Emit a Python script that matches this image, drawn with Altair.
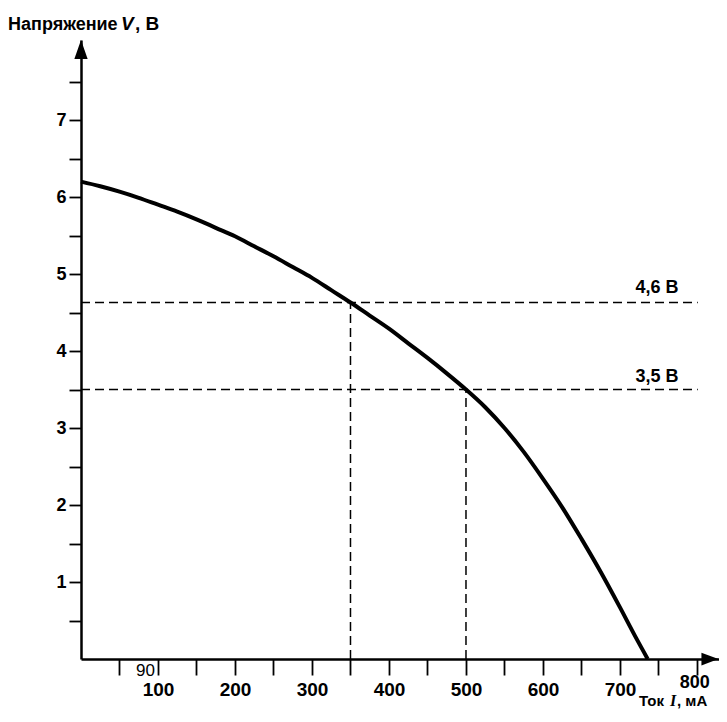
import altair as alt
import pandas as pd

# ---- data ----
current_mA = [0, 25, 50, 75, 100, 125, 150, 175, 200, 225, 250, 275, 300, 325, 350,
              375, 400, 425, 450, 475, 500, 525, 550, 575, 600, 625, 650, 675, 700, 720, 736]
voltage_V = [6.2, 6.14, 6.07, 5.99, 5.9, 5.81, 5.71, 5.6, 5.49, 5.36, 5.23, 5.09, 4.95, 4.79, 4.63,
             4.46, 4.29, 4.1, 3.91, 3.71, 3.5, 3.27, 3.0, 2.69, 2.34, 1.97, 1.56, 1.13, 0.67, 0.29, 0.0]

ref_voltage = [4.63, 3.5]
ref_current = [350, 500]
ref_text = ["4,6 В", "3,5 В"]
ref_line_end = 801
ref_label_x = 748
ref_label_y = [4.75, 3.6]

x_tick_values = list(range(50, 801, 50))
y_tick_values = [0.5 * i for i in range(1, 16)]

X_MAX = 828.6
Y_MAX = 8.039

FONT = "Liberation Sans"

xs = alt.Scale(domain=[0, X_MAX], nice=False, zero=False)
ys = alt.Scale(domain=[0, Y_MAX], nice=False, zero=False)

curve_df = pd.DataFrame({"I": current_mA, "V": voltage_V})
ref_df = pd.DataFrame({
    "I": [0, 0], "I2": [ref_line_end, ref_line_end],
    "V": ref_voltage, "Ic": ref_current, "V0": [0, 0],
    "label": ref_text, "Lx": [ref_label_x] * 2, "Ly": ref_label_y,
})

x_axis = alt.Axis(
    values=x_tick_values, title=None, grid=False,
    labelExpr="datum.value % 100 === 0 && datum.value <= 700 ? datum.value + '' : ''",
    tickSize=16, tickWidth=1.8, tickColor="black",
    domainColor="black", domainWidth=2.5,
    labelFont=FONT, labelFontSize=19, labelFontWeight="bold", labelColor="black",
    labelPadding=5, labelFlush=False, labelOverlap=False,
)
y_axis = alt.Axis(
    values=y_tick_values, title=None, grid=False,
    labelExpr="datum.value % 1 === 0 && datum.value > 0 ? datum.value + '' : ''",
    tickSize=12, tickWidth=1.8, tickColor="black",
    domainColor="black", domainWidth=2.5,
    labelFont=FONT, labelFontSize=18, labelFontWeight="bold", labelColor="black",
    labelPadding=3, labelFlush=False, labelOverlap=False,
)


def X(field):
    return alt.X(field, type="quantitative", scale=xs, axis=x_axis)


def Y(field):
    return alt.Y(field, type="quantitative", scale=ys, axis=y_axis)


curve = alt.Chart(curve_df).mark_line(
    color="black", strokeWidth=4, interpolate="monotone"
).encode(x=X("I"), y=Y("V"))

h_lines = alt.Chart(ref_df).mark_rule(
    color="black", strokeWidth=1.5, strokeDash=[9, 5]
).encode(x=X("I"), x2="I2:Q", y=Y("V"))

v_lines = alt.Chart(ref_df).mark_rule(
    color="black", strokeWidth=1.5, strokeDash=[9, 5]
).encode(x=X("Ic"), y=Y("V0"), y2="V:Q")

ref_labels = alt.Chart(ref_df).mark_text(
    font=FONT, fontSize=18, fontWeight="bold", color="black",
    align="center", baseline="alphabetic"
).encode(x=X("Lx"), y=Y("Ly"), text="label:N")

# arrow heads at the ends of the axes
arrow_x = alt.Chart(pd.DataFrame({"I": [816.8], "V": [0]})).mark_point(
    shape="M -1 -0.75 L 1 0 L -1 0.75 Z", size=289, filled=True,
    color="black", opacity=1, strokeWidth=0
).encode(x=X("I"), y=Y("V"))

arrow_y = alt.Chart(pd.DataFrame({"I": [0], "V": [7.916]})).mark_point(
    shape="M -0.7 1 L 0 -1 L 0.7 1 Z", size=361, filled=True,
    color="black", opacity=1, strokeWidth=0
).encode(x=X("I"), y=Y("V"))

# extra tick-label texts ("90" and raised "800")
extra_90 = alt.Chart(pd.DataFrame({"I": [96], "V": [-0.22], "t": ["90"]})).mark_text(
    font=FONT, fontSize=17, color="black", align="right", baseline="alphabetic"
).encode(x=X("I"), y=Y("V"), text="t:N")
extra_800 = alt.Chart(pd.DataFrame({"I": [797], "V": [-0.383], "t": ["800"]})).mark_text(
    font=FONT, fontSize=18, fontWeight="bold", color="black", align="center",
    baseline="alphabetic"
).encode(x=X("I"), y=Y("V"), text="t:N")


# axis titles (mixed upright / italic parts)
def txt(s, x, y, size=18, weight="bold", style="normal", font=FONT):
    return alt.Chart().mark_text(
        text=s, font=font, fontSize=size, fontWeight=weight, fontStyle=style,
        color="black", align="left", baseline="alphabetic"
    ).encode(x=alt.value(x), y=alt.value(y))


y_title = [
    txt("Напряжение", -73, -10, size=18),
    txt("V", 40, -10, size=19, style="italic"),
    txt(", В", 54, -10, size=19),
]
x_title = [
    txt("Ток", 558, 666, size=15),
    txt("I", 589, 666, size=16, style="italic", font="Liberation Serif"),
    txt(", мА", 596, 666, size=15),
]

chart = alt.layer(
    h_lines, v_lines, curve, ref_labels, arrow_x, arrow_y, extra_90, extra_800,
    *y_title, *x_title
).properties(
    width=638, height=619,
    padding={"left": 73, "top": 32, "right": 0, "bottom": 50},
    autosize=alt.AutoSizeParams(type="none"),
).configure(background="white", view=alt.ViewConfig(stroke=None))

chart.save("out.html", embed_options={"renderer": "svg", "actions": False})
